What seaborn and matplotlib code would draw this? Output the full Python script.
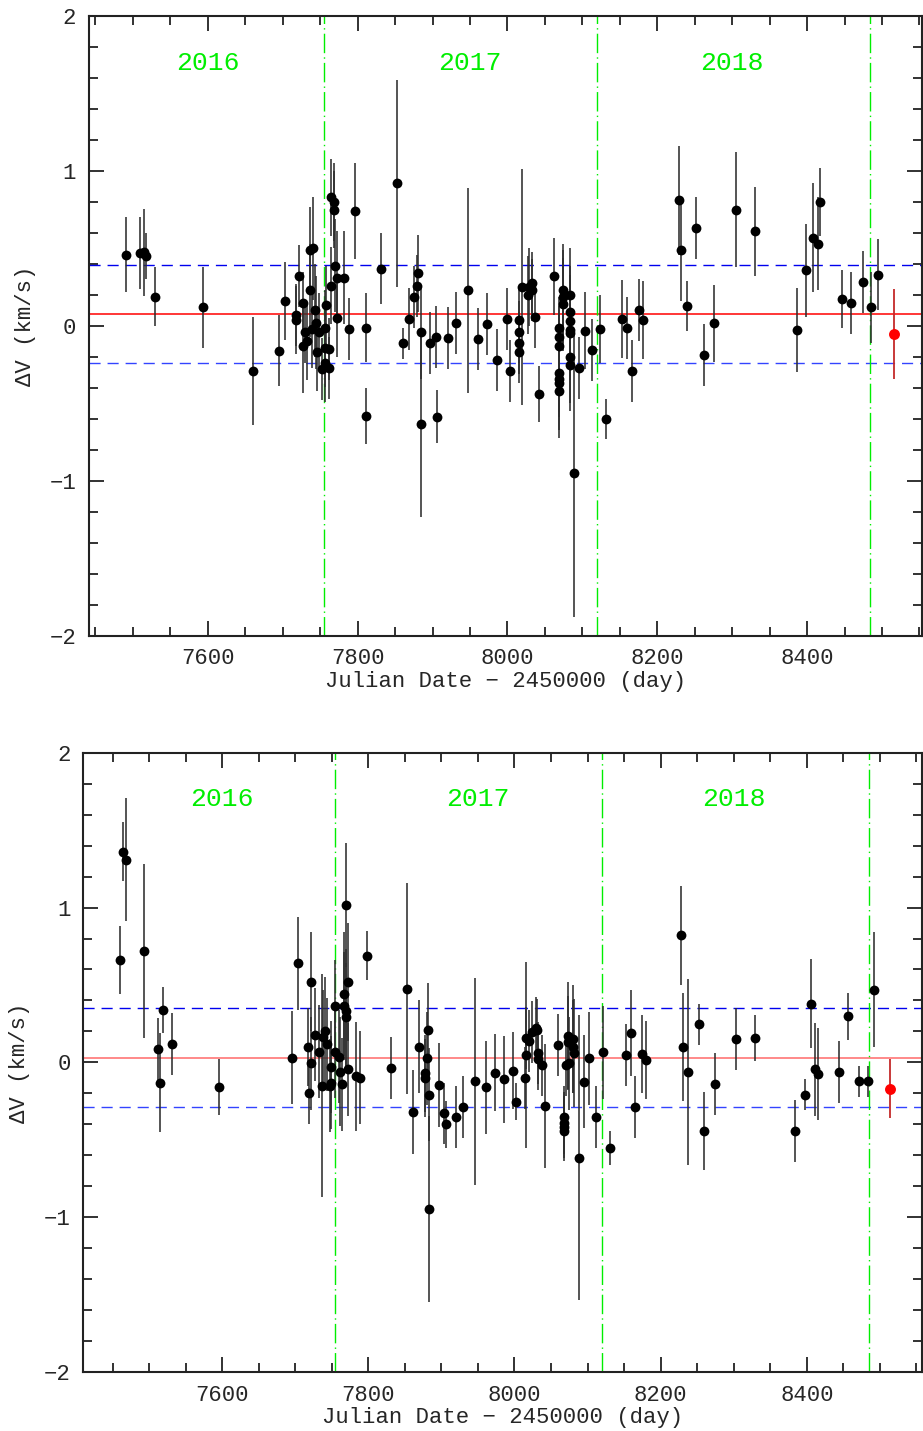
import numpy as np
import pandas as pd
import matplotlib
matplotlib.use("Agg")
import matplotlib.pyplot as plt
import seaborn as sns
from matplotlib.ticker import MultipleLocator

sns.set_style("ticks")
plt.rcParams['font.family'] = ['Liberation Mono', 'DejaVu Sans Mono', 'DejaVu Sans']
plt.rcParams['axes.unicode_minus'] = True

# ---------------- top panel data ----------------
top_jd = [7491, 7510, 7515, 7518, 7530, 7593, 7660, 7695, 7703, 7718, 7718, 7722, 7727, 7727,
          7730, 7733, 7736, 7737, 7741, 7743, 7739, 7744, 7746, 7748, 7752, 7757, 7758, 7756,
          7762, 7762, 7757, 7765, 7768, 7768, 7770, 7765, 7772, 7772, 7782, 7788, 7797, 7811,
          7811, 7831, 7853, 7860, 7869, 7875, 7879, 7881, 7884, 7884, 7897, 7904, 7906, 7921,
          7931, 7947, 7961, 7973, 7986, 7999, 8003, 8016, 8016, 8016, 8016, 8019, 8028, 8029,
          8033, 8033, 8037, 8042, 8062, 8069, 8069, 8069, 8069, 8069, 8069, 8069, 8074, 8074,
          8074, 8083, 8083, 8083, 8083, 8083, 8083, 8083, 8089, 8096, 8103, 8113, 8123, 8132,
          8153, 8160, 8166, 8175, 8181, 8229, 8232, 8240, 8252, 8262, 8276, 8305, 8331, 8386,
          8399, 8408, 8414, 8417, 8446, 8459, 8475, 8485, 8495]
top_dv = [0.46, 0.47, 0.475, 0.45, 0.19, 0.12, -0.29, -0.16, 0.16, 0.07, 0.04, 0.32, 0.15, -0.13,
          -0.04, -0.10, 0.49, 0.23, 0.50, 0.10, -0.02, 0.02, -0.17, -0.04, -0.28, -0.015, 0.135, -0.145,
          -0.15, -0.27, -0.24, 0.83, 0.80, 0.75, 0.39, 0.26, 0.31, 0.05, 0.31, -0.02, 0.74, -0.01,
          -0.58, 0.37, 0.92, -0.11, 0.045, 0.19, 0.26, 0.34, -0.04, -0.63, -0.11, -0.07, -0.585, -0.08,
          0.02, 0.23, -0.086, 0.013, -0.22, 0.043, -0.29, 0.04, -0.04, -0.11, -0.166, 0.25, 0.20, 0.25,
          0.28, 0.23, 0.056, -0.44, 0.32, -0.015, -0.07, -0.13, -0.305, -0.34, -0.37, -0.42, 0.23, 0.19,
          0.14, 0.20, 0.09, 0.03, -0.026, -0.047, -0.20, -0.25, -0.95, -0.27, -0.03, -0.155, -0.02, -0.60,
          0.045, -0.015, -0.29, 0.10, 0.04, 0.81, 0.49, 0.13, 0.63, -0.19, 0.017, 0.75, 0.61, -0.026,
          0.36, 0.57, 0.53, 0.80, 0.174, 0.15, 0.286, 0.12, 0.33]
top_err = [0.24, 0.23, 0.28, 0.15, 0.19, 0.26, 0.35, 0.23, 0.25, 0.20, 0.22, 0.20, 0.20, 0.30,
           0.20, 0.25, 0.28, 0.30, 0.33, 0.30, 0.25, 0.30, 0.25, 0.25, 0.20, 0.25, 0.25, 0.25,
           0.20, 0.20, 0.25, 0.25, 0.25, 0.25, 0.30, 0.25, 0.30, 0.25, 0.30, 0.20, 0.31, 0.22,
           0.18, 0.23, 0.67, 0.10, 0.20, 0.20, 0.20, 0.25, 0.30, 0.60, 0.20, 0.20, 0.17, 0.20,
           0.20, 0.66, 0.20, 0.20, 0.20, 0.20, 0.20, 0.20, 0.20, 0.20, 0.20, 0.76, 0.25, 0.25,
           0.20, 0.20, 0.20, 0.18, 0.25, 0.20, 0.20, 0.20, 0.25, 0.25, 0.30, 0.30, 0.30, 0.30,
           0.30, 0.30, 0.30, 0.30, 0.30, 0.30, 0.30, 0.30, 0.93, 0.20, 0.25, 0.20, 0.22, 0.13,
           0.25, 0.20, 0.20, 0.20, 0.25, 0.35, 0.33, 0.16, 0.20, 0.20, 0.25, 0.37, 0.29, 0.27,
           0.30, 0.35, 0.30, 0.22, 0.19, 0.20, 0.20, 0.23, 0.23]
top_red = (8516, -0.05, 0.29)
top_mean, top_sig = 0.075, 0.317

# ---------------- bottom panel data ----------------
bot_jd = [7460, 7464, 7468, 7493, 7512, 7515, 7519, 7531, 7595, 7696, 7704, 7718, 7719, 7721,
          7722, 7727, 7732, 7738, 7741, 7737, 7743, 7747, 7749, 7749, 7754, 7754, 7760, 7761,
          7764, 7767, 7767, 7769, 7769, 7770, 7772, 7772, 7783, 7789, 7798, 7831, 7853, 7861,
          7869, 7877, 7878, 7880, 7882, 7883, 7883, 7897, 7904, 7906, 7920, 7930, 7946, 7961,
          7973, 7986, 7998, 8002, 8015, 8016, 8016, 8020, 8024, 8029, 8031, 8032, 8032, 8037,
          8042, 8060, 8068, 8068, 8068, 8068, 8071, 8073, 8073, 8074, 8080, 8080, 8082, 8088,
          8095, 8102, 8112, 8121, 8131, 8153, 8159, 8165, 8175, 8180, 8228, 8231, 8238, 8252,
          8260, 8274, 8303, 8329, 8384, 8397, 8406, 8411, 8415, 8444, 8456, 8472, 8484, 8492]
bot_dv = [0.66, 1.36, 1.31, 0.72, 0.084, -0.13, 0.34, 0.12, -0.16, 0.03, 0.64, 0.10, -0.20, -0.006,
          0.52, 0.18, 0.07, 0.166, 0.20, -0.15, 0.116, -0.15, -0.13, -0.03, 0.07, 0.364, 0.036, -0.06,
          -0.14, 0.44, 0.364, 0.33, 0.295, 1.015, 0.52, -0.045, -0.09, -0.10, 0.69, -0.035, 0.476, -0.32,
          0.10, -0.10, -0.07, 0.026, 0.21, -0.21, -0.946, -0.145, -0.33, -0.40, -0.355, -0.287, -0.123, -0.16,
          -0.067, -0.11, -0.054, -0.255, -0.10, 0.05, 0.155, 0.14, 0.197, 0.22, 0.21, 0.06, 0.02, -0.02,
          -0.28, 0.11, -0.35, -0.39, -0.42, -0.44, -0.015, 0.17, 0.13, -0.006, 0.15, 0.10, 0.06, -0.615,
          -0.125, 0.026, -0.355, 0.065, -0.556, 0.05, 0.19, -0.29, 0.053, 0.015, 0.82, 0.10, -0.06, 0.245,
          -0.444, -0.138, 0.152, 0.157, -0.444, -0.21, 0.38, -0.045, -0.075, -0.063, 0.297, -0.123, -0.123, 0.47]
bot_err = [0.22, 0.19, 0.40, 0.56, 0.20, 0.32, 0.15, 0.20, 0.18, 0.30, 0.30, 0.25, 0.20, 0.30,
           0.32, 0.30, 0.30, 0.30, 0.35, 0.72, 0.30, 0.30, 0.30, 0.30, 0.30, 0.30, 0.30, 0.35,
           0.30, 0.40, 0.35, 0.40, 0.35, 0.40, 0.38, 0.30, 0.35, 0.30, 0.16, 0.20, 0.68, 0.27,
           0.30, 0.25, 0.25, 0.30, 0.30, 0.30, 0.60, 0.27, 0.20, 0.15, 0.20, 0.20, 0.67, 0.30,
           0.25, 0.28, 0.25, 0.12, 0.20, 0.60, 0.20, 0.20, 0.20, 0.20, 0.20, 0.20, 0.20, 0.20,
           0.40, 0.20, 0.20, 0.20, 0.20, 0.20, 0.20, 0.35, 0.30, 0.30, 0.35, 0.30, 0.35, 0.92,
           0.30, 0.30, 0.20, 0.30, 0.11, 0.20, 0.28, 0.20, 0.25, 0.25, 0.32, 0.35, 0.60, 0.13,
           0.25, 0.20, 0.20, 0.15, 0.20, 0.10, 0.29, 0.30, 0.30, 0.20, 0.15, 0.10, 0.10, 0.37]
bot_red = (8514, -0.17, 0.19)
bot_mean, bot_sig = 0.03, 0.32

year_bounds = [7754.5, 8119.5, 8484.5]
year_labels = ["2016", "2017", "2018"]
year_pos = [7600, 7950, 8300]

xlabel = "Julian Date \u2212 2450000 (day)"
ylabel = "\u0394V (km/s)"


def draw(ax, jd, dv, err, red, mean, sig, xlim, red_line_color):
    df = pd.DataFrame({"jd": jd, "dv": dv, "err": err})
    ax.errorbar(df["jd"], df["dv"], yerr=df["err"], fmt="none",
                ecolor="#2e2e2e", elinewidth=1.15, capsize=0, zorder=2)
    sns.scatterplot(data=df, x="jd", y="dv", ax=ax, color="black", s=50,
                    linewidth=0, zorder=3, legend=False)
    rdf = pd.DataFrame({"jd": [red[0]], "dv": [red[1]], "err": [red[2]]})
    ax.errorbar(rdf["jd"], rdf["dv"], yerr=rdf["err"], fmt="none",
                ecolor="#c42a2a", elinewidth=1.3, capsize=0, zorder=2)
    sns.scatterplot(data=rdf, x="jd", y="dv", ax=ax, color="#ff0000", s=62,
                    linewidth=0, zorder=4, legend=False)

    ax.axhline(mean, color=red_line_color, lw=1.1, zorder=1)
    ax.axhline(mean + sig, color="#0000ee", lw=1.0, ls=(0, (8, 5)), zorder=1)
    ax.axhline(mean - sig, color="#3344ff", lw=1.0, ls=(0, (8, 5)), zorder=1)
    for xb in year_bounds:
        ax.axvline(xb, color="#00ee00", lw=1.0, ls=(0, (14, 3, 1, 3)), zorder=1)
    for lab, xp in zip(year_labels, year_pos):
        ax.text(xp, 1.70, lab, color="#00ee00", fontsize=19, ha="center", va="center")

    ax.set_xlim(*xlim)
    ax.set_ylim(-2, 2)
    ax.xaxis.set_major_locator(MultipleLocator(200))
    ax.xaxis.set_minor_locator(MultipleLocator(50))
    ax.yaxis.set_major_locator(MultipleLocator(1))
    ax.yaxis.set_minor_locator(MultipleLocator(0.2))
    ax.tick_params(which="both", direction="in", top=True, right=True,
                   color="#222222", width=1.3)
    ax.tick_params(which="major", length=11, labelsize=16, pad=9)
    ax.tick_params(which="minor", length=6.5)
    for sp in ax.spines.values():
        sp.set_visible(True)
        sp.set_linewidth(1.5)
        sp.set_color("#222222")
    ax.set_xlabel(xlabel, fontsize=16, labelpad=1)
    ax.set_ylabel(ylabel, fontsize=16, labelpad=10)


fig = plt.figure(figsize=(9.23, 14.31), dpi=100)
ax1 = fig.add_axes([0.0961, 0.5556, 0.9025, 0.4332])
ax2 = fig.add_axes([0.0903, 0.0412, 0.9089, 0.4328])

draw(ax1, top_jd, top_dv, top_err, top_red, top_mean, top_sig, (7441, 8553), "#ff0000")
draw(ax2, bot_jd, bot_dv, bot_err, bot_red, bot_mean, bot_sig, (7410, 8558), "#ff6a6a")

fig.savefig("out.png", dpi=100)
